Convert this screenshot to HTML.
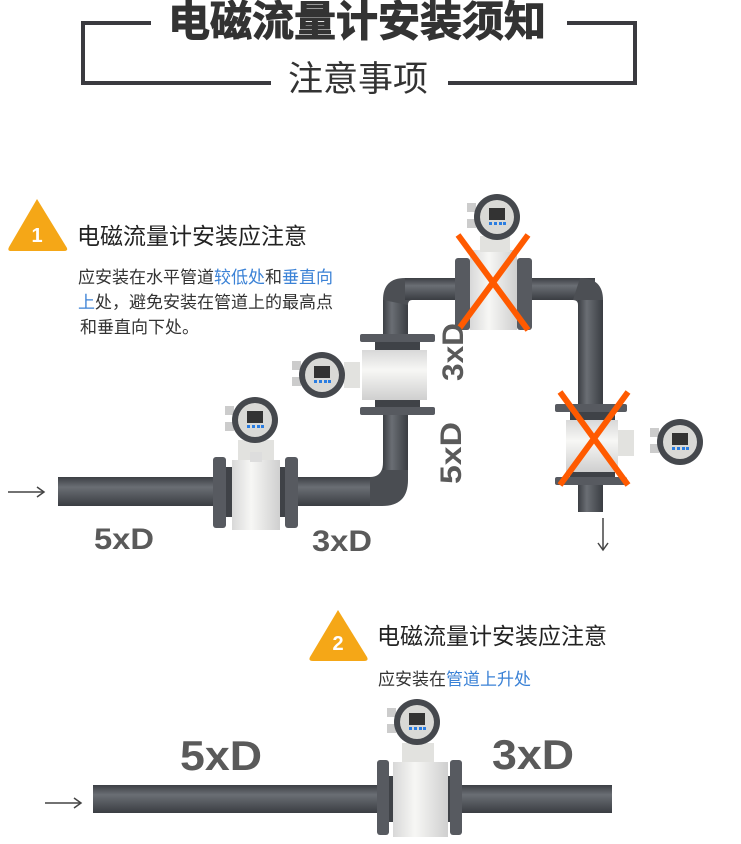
<!DOCTYPE html>
<html><head><meta charset="utf-8"><style>
html,body{margin:0;padding:0;background:#fff;}
body{width:741px;height:839px;overflow:hidden;}
text{font-family:"Liberation Sans","Noto Sans CJK SC",sans-serif;}
</style></head><body>
<svg width="741" height="839" viewBox="0 0 741 839" xmlns="http://www.w3.org/2000/svg">
<defs>
<linearGradient id="ph" x1="0" y1="0" x2="0" y2="1"><stop offset="0" stop-color="#3c3f44"/><stop offset="0.35" stop-color="#6a6e74"/><stop offset="1" stop-color="#3a3d42"/></linearGradient>
<linearGradient id="pv" x1="0" y1="0" x2="1" y2="0"><stop offset="0" stop-color="#3c3f44"/><stop offset="0.35" stop-color="#6a6e74"/><stop offset="1" stop-color="#3a3d42"/></linearGradient>
<linearGradient id="bh" x1="0" y1="0" x2="1" y2="0"><stop offset="0" stop-color="#d8d8d8"/><stop offset="0.4" stop-color="#f7f7f5"/><stop offset="1" stop-color="#cfcfcf"/></linearGradient>
<linearGradient id="bv" x1="0" y1="0" x2="0" y2="1"><stop offset="0" stop-color="#d8d8d8"/><stop offset="0.4" stop-color="#f7f7f5"/><stop offset="1" stop-color="#cfcfcf"/></linearGradient>
<g id="head">
<rect x="-30" y="-14" width="9" height="9" fill="#ccc"/><rect x="-30" y="2" width="9" height="9" fill="#ccc"/>
<circle r="23" fill="#45484d"/><circle r="17" fill="#d9d9d6"/>
<rect x="-8" y="-9" width="16" height="12" fill="#333"/>
<rect x="-8" y="5" width="3" height="3" fill="#2a7de1"/><rect x="-3" y="5" width="3" height="3" fill="#2a7de1"/><rect x="2" y="5" width="3" height="3" fill="#2a7de1"/><rect x="6" y="5" width="3" height="3" fill="#2a7de1"/>
</g>
</defs>
<!-- header -->
<g fill="#3a3a3f">
<rect x="81" y="21" width="70" height="4"/><rect x="567" y="21" width="70" height="4"/>
<rect x="81" y="21" width="4" height="64"/><rect x="633" y="21" width="4" height="64"/>
<rect x="81" y="81" width="190" height="4"/><rect x="448" y="81" width="189" height="4"/>
</g>
<text x="357" y="36" text-anchor="middle" font-size="42" font-weight="bold" fill="#333" stroke="#333" stroke-width="1">电磁流量计安装须知</text>
<text x="358" y="91" text-anchor="middle" font-size="35" fill="#333">注意事项</text>

<!-- section 1 -->
<path d="M37 199 L67 248 Q68 251 64 251 L11 251 Q7 251 9 247 Z" fill="#f5a717"/>
<text x="37" y="242" text-anchor="middle" font-size="20" font-weight="bold" fill="#fff">1</text>
<text x="77" y="244" font-size="23" fill="#222">电磁流量计安装应注意</text>
<text x="78" y="283" font-size="17" fill="#333">应安装在水平管道<tspan fill="#3b82d6">较低处</tspan>和<tspan fill="#3b82d6">垂直向</tspan></text>
<text x="78" y="308" font-size="17" fill="#333"><tspan fill="#3b82d6">上</tspan>处，避免安装在管道上的最高点</text>
<text x="80" y="333" font-size="17" fill="#333">和垂直向下处。</text>

<!-- pipes -->
<rect x="58" y="477" width="320" height="29" fill="url(#ph)"/>
<path d="M370 477 Q383 477 383 462 L383 420 L408 420 L408 480 Q408 506 382 506 L370 506 Z" fill="#4a4d52"/>
<rect x="383" y="300" width="25" height="170" fill="url(#pv)"/>
<path d="M383 300 Q383 278 405 278 L420 278 L420 300 L412 300 Q408 300 408 305 Z" fill="#4c4f54"/>
<rect x="405" y="278" width="190" height="22" fill="url(#ph)"/>
<path d="M580 278 Q603 278 603 300 L603 320 L578 320 L578 305 Q578 300 573 300 Z" fill="#4c4f54"/>
<rect x="578" y="300" width="25" height="212" fill="url(#pv)"/>

<!-- meter 1 -->
<rect x="226" y="467" width="62" height="50" fill="#3f4247"/>
<rect x="213" y="457" width="13" height="71" rx="3" fill="#575a60"/>
<rect x="285" y="457" width="13" height="71" rx="3" fill="#575a60"/>
<rect x="232" y="460" width="48" height="70" fill="url(#bh)"/>
<rect x="238" y="440" width="36" height="20" fill="#e2e2df"/><rect x="250" y="452" width="12" height="10" fill="#ddd"/>
<use href="#head" x="255" y="420"/>

<!-- meter 2 -->
<rect x="360" y="334" width="75" height="8" rx="2" fill="#575a60"/>
<rect x="360" y="407" width="75" height="8" rx="2" fill="#575a60"/>
<rect x="375" y="342" width="45" height="65" fill="#3f4247"/>
<rect x="362" y="350" width="65" height="50" fill="url(#bv)"/>
<rect x="344" y="362" width="16" height="26" fill="#e2e2df"/>
<use href="#head" x="322" y="375"/>

<!-- meter 3 -->
<rect x="455" y="258" width="15" height="72" rx="3" fill="#575a60"/>
<rect x="517" y="258" width="15" height="72" rx="3" fill="#575a60"/>
<rect x="470" y="250" width="47" height="80" fill="url(#bh)"/>
<rect x="480" y="236" width="30" height="16" fill="#e2e2df"/>
<use href="#head" x="497" y="217"/>
<g stroke="#ff5a00" stroke-width="6"><line x1="458" y1="235" x2="528" y2="330"/><line x1="528" y1="235" x2="458" y2="330"/></g>

<!-- meter 4 -->
<rect x="555" y="404" width="72" height="8" rx="2" fill="#575a60"/>
<rect x="555" y="477" width="72" height="8" rx="2" fill="#575a60"/>
<rect x="570" y="412" width="45" height="65" fill="#3f4247"/>
<rect x="566" y="420" width="52" height="52" fill="url(#bv)"/>
<rect x="618" y="430" width="16" height="26" fill="#e2e2df"/>
<use href="#head" x="680" y="442"/>
<g stroke="#ff5a00" stroke-width="6"><line x1="560" y1="392" x2="628" y2="485"/><line x1="628" y1="392" x2="560" y2="485"/></g>

<!-- labels 1 -->
<g font-size="30" font-weight="bold" fill="#5a5a5a">
<text x="94" y="549" textLength="60" lengthAdjust="spacingAndGlyphs">5xD</text>
<text x="312" y="551" textLength="60" lengthAdjust="spacingAndGlyphs">3xD</text>
<text transform="translate(463,352) rotate(-90)" text-anchor="middle" textLength="58" lengthAdjust="spacingAndGlyphs">3xD</text>
<text transform="translate(461,453) rotate(-90)" text-anchor="middle" textLength="62" lengthAdjust="spacingAndGlyphs">5xD</text>
</g>
<g stroke="#444" stroke-width="1.5" fill="none">
<line x1="8" y1="492" x2="43" y2="492"/><path d="M37 487 L44 492 L37 497"/>
<line x1="603" y1="518" x2="603" y2="550"/><path d="M598 543 L603 550 L608 543"/>
</g>

<!-- section 2 -->
<path d="M338 610 L367 657 Q369 661 364 661 L313 661 Q308 661 310 657 Z" fill="#f5a717"/>
<text x="338" y="650" text-anchor="middle" font-size="20" font-weight="bold" fill="#fff">2</text>
<text x="377" y="644" font-size="23" fill="#222">电磁流量计安装应注意</text>
<text x="378" y="685" font-size="17" fill="#333">应安装在<tspan fill="#3b82d6">管道上升处</tspan></text>

<rect x="93" y="785" width="519" height="28" fill="url(#ph)"/>
<rect x="388" y="776" width="66" height="46" fill="#3f4247"/>
<rect x="377" y="760" width="12" height="75" rx="3" fill="#575a60"/>
<rect x="450" y="760" width="12" height="75" rx="3" fill="#575a60"/>
<rect x="393" y="762" width="55" height="75" fill="url(#bh)"/>
<rect x="402" y="743" width="32" height="19" fill="#e2e2df"/>
<use href="#head" x="417" y="722"/>
<g font-size="42" font-weight="bold" fill="#5a5a5a">
<text x="180" y="770" textLength="82" lengthAdjust="spacingAndGlyphs">5xD</text>
<text x="492" y="769" textLength="82" lengthAdjust="spacingAndGlyphs">3xD</text>
</g>
<g stroke="#444" stroke-width="1.5" fill="none">
<line x1="45" y1="803" x2="80" y2="803"/><path d="M74 798 L81 803 L74 808"/>
</g>
</svg>
</body></html>
